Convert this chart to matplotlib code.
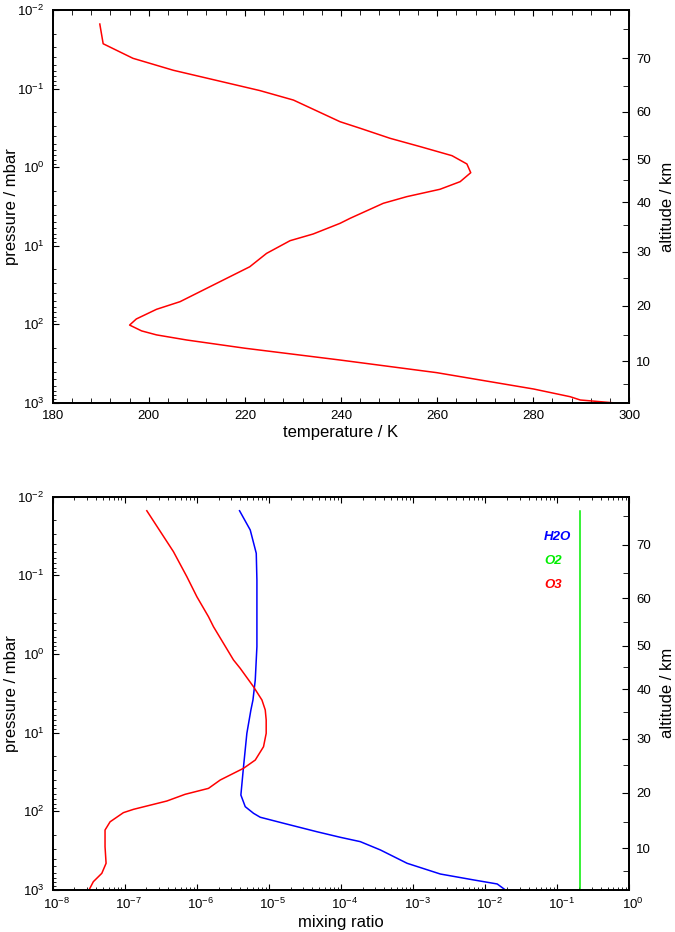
import numpy as np
import matplotlib
matplotlib.use('Agg')
import matplotlib.pyplot as plt
import matplotlib.transforms as mtransforms
from matplotlib.ticker import LogLocator, FixedLocator, NullFormatter, MultipleLocator

plt.rcParams['font.family'] = ['Liberation Sans', 'DejaVu Sans']
plt.rcParams['mathtext.default'] = 'regular'

# temperature profile (pressure in mbar, temperature in K)
temp_p = [0.0151, 0.0269, 0.0412, 0.0585, 0.106, 0.140, 0.264, 0.320, 0.429, 0.548,
          0.714, 0.910, 1.175, 1.528, 1.91, 2.37, 2.88, 4.47, 5.18, 7.08,
          8.61, 12.5, 18.5, 31.6, 51.4, 64.3, 85.3, 102, 121, 136,
          158, 201, 284, 411, 664, 832, 916, 991]
temp_T = [189.8, 190.5, 196.7, 205.1, 223.1, 230.1, 239.8, 244.0, 250.2, 256.5,
          263.1, 266.2, 267.0, 264.8, 260.6, 253.7, 248.8, 241.9, 239.8, 234.2,
          229.4, 224.5, 221.0, 213.4, 206.5, 201.6, 197.4, 196.0, 198.5, 201.6,
          207.9, 220.0, 239.8, 259.9, 280.1, 287.7, 289.8, 296.4]

# mixing ratios
h2o_p = [0.0151, 0.0265, 0.0525, 0.115, 0.807, 2.14, 3.85, 5.15, 10.2, 27.1,
         62.1, 87.3, 106, 119, 142, 182, 214, 243, 310, 458,
         627, 746, 839, 1000]
h2o_mr = [3.91e-6, 5.50e-6, 6.67e-6, 6.81e-6, 6.81e-6, 6.46e-6, 6.0e-6, 5.62e-6, 4.94e-6, 4.44e-6,
          4.08e-6, 4.69e-6, 6.11e-6, 7.57e-6, 1.60e-5, 4.65e-5, 9.77e-5, 1.85e-4, 3.52e-4, 8.26e-4,
          2.39e-3, 6.95e-3, 1.47e-2, 1.91e-2]

o2_p = [0.0151, 1000]
o2_mr = [0.209, 0.209]

o3_p = [0.0151, 0.050, 0.104, 0.187, 0.336, 0.450, 1.19, 1.52, 2.61, 3.85,
        5.15, 6.90, 10.2, 15.1, 22.3, 28.4, 40.0, 51.1, 60.8, 74.0,
        94.4, 104, 136, 173, 282, 458, 614, 785, 982]
o3_mr = [2.02e-7, 4.73e-7, 7.26e-7, 1.0e-6, 1.45e-6, 1.70e-6, 3.22e-6, 3.99e-6, 6.11e-6, 8.0e-6,
         8.89e-6, 9.16e-6, 9.16e-6, 8.41e-6, 6.46e-6, 4.44e-6, 2.11e-6, 1.45e-6, 6.87e-7, 3.83e-7,
         1.32e-7, 9.57e-8, 6.25e-8, 5.32e-8, 5.32e-8, 5.50e-8, 4.80e-8, 3.66e-8, 3.22e-8]

species = ['H2O', 'O2', 'O3']
colors = ['#0000ff', '#00ee00', '#ff0000']

# altitude scale (km) and matching pressure levels (mbar)
alt_km = [5, 10, 15, 20, 25, 30, 35, 40, 45, 50, 55, 60, 65, 70, 75]
alt_logp = [2.758, 2.469, 2.135, 1.762, 1.414, 1.075, 0.735, 0.447, 0.163, -0.104,
            -0.401, -0.706, -1.033, -1.386, -1.758]
alt_p = [10 ** v for v in alt_logp]

fig = plt.figure(figsize=(6.75, 9.32), dpi=100)
ax1 = fig.add_axes([0.0781, 0.5676, 0.8542, 0.4217])
ax2 = fig.add_axes([0.0781, 0.0451, 0.8542, 0.4220])


def style_pressure(ax):
    ax.set_yscale('log')
    ax.set_ylim(1e3, 1e-2)
    ax.yaxis.set_major_locator(LogLocator(base=10, numticks=10))
    ax.yaxis.set_minor_locator(LogLocator(base=10, subs=np.arange(2, 10), numticks=10))
    ax.yaxis.set_minor_formatter(NullFormatter())
    ax.set_ylabel('pressure / mbar', fontsize=12)
    ax.yaxis.set_label_coords(-0.058, 0.5)
    ax.tick_params(axis='y', which='both', direction='in', left=True, right=False,
                   labelsize=9.5, pad=6)
    ax.tick_params(axis='y', which='major', length=4)
    ax.tick_params(axis='y', which='minor', length=2.5)
    for s in ax.spines.values():
        s.set_linewidth(1.3)

    # altitude axis on the right
    tw = ax.twinx()
    tw.set_yscale('log')
    tw.set_ylim(1e3, 1e-2)
    major = [p for z, p in zip(alt_km, alt_p) if z % 10 == 0]
    minor = [p for z, p in zip(alt_km, alt_p) if z % 10 != 0]
    tw.yaxis.set_major_locator(FixedLocator(major))
    tw.yaxis.set_minor_locator(FixedLocator(minor))
    tw.set_yticklabels([str(z) for z in alt_km if z % 10 == 0])
    tw.yaxis.set_minor_formatter(NullFormatter())
    tw.tick_params(axis='y', which='both', direction='in', labelsize=9.5, pad=5)
    tw.tick_params(axis='y', which='major', length=5)
    tw.tick_params(axis='y', which='minor', length=4)
    tw.set_ylabel('altitude / km', fontsize=12)
    tw.yaxis.set_label_coords(1.053, 0.5)
    for s in tw.spines.values():
        s.set_linewidth(1.3)
    return tw


# top panel: temperature
ax1.plot(temp_T, temp_p, color='#ff0000', lw=1.1)
ax1.set_xlim(180, 300)
ax1.xaxis.set_major_locator(MultipleLocator(20))
ax1.xaxis.set_minor_locator(MultipleLocator(4))
ax1.tick_params(axis='x', which='both', direction='in', top=True, labelsize=9.5, pad=5)
ax1.tick_params(axis='x', which='major', length=4)
ax1.tick_params(axis='x', which='minor', length=3.5)
ax1.set_xlabel('temperature / K', fontsize=12, labelpad=2)
style_pressure(ax1)

# bottom panel: mixing ratios
ax2.plot(h2o_mr, h2o_p, color=colors[0], lw=1.1)
ax2.plot(o2_mr, o2_p, color=colors[1], lw=1.1)
ax2.plot(o3_mr, o3_p, color=colors[2], lw=1.1)
ax2.set_xscale('log')
ax2.set_xlim(1e-8, 1)
ax2.xaxis.set_major_locator(LogLocator(base=10, numticks=12))
ax2.xaxis.set_minor_locator(LogLocator(base=10, subs=np.arange(2, 10), numticks=12))
ax2.xaxis.set_minor_formatter(NullFormatter())
ax2.tick_params(axis='x', which='both', direction='in', top=True, labelsize=9.5, pad=5)
ax2.tick_params(axis='x', which='major', length=4.5)
ax2.tick_params(axis='x', which='minor', length=2.5)
ax2.set_xlabel('mixing ratio', fontsize=12, labelpad=2)
style_pressure(ax2)

# keep the "10" of each label centred on its tick, exponent hanging to the right
shift = mtransforms.ScaledTranslation(0.04, 0, fig.dpi_scale_trans)
for lab in ax2.get_xticklabels():
    lab.set_transform(lab.get_transform() + shift)

for i, (name, c) in enumerate(zip(species, colors)):
    ax2.text(0.852, 0.8975 - i * 0.061, name, transform=ax2.transAxes, color=c,
             fontsize=9.5, fontweight='bold', fontstyle='italic', va='center', ha='left')

fig.savefig('out.png', dpi=100)
